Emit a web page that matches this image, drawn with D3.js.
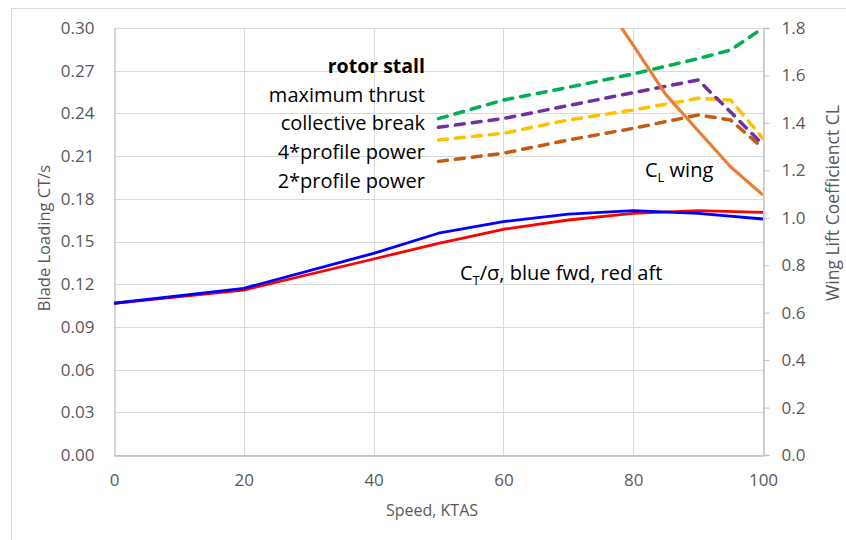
<!DOCTYPE html>
<html>
<head>
<meta charset="utf-8">
<script src="https://cdn.jsdelivr.net/npm/d3@7"></script>
<style>
body { margin: 0; background: #fff; }
text { font-family: "Open Sans", sans-serif; }
</style>
</head>
<body>
<svg id="chart" width="846" height="540"></svg>
<script>
// rotor thrust coefficient, fwd and aft rotor
var speedCT = [0, 20, 40, 50, 60, 70, 80, 90, 100];
var ctFwd = [0.1066, 0.1171, 0.1417, 0.1558, 0.1639, 0.1693, 0.1717, 0.1698, 0.1658];
var ctAft = [0.1066, 0.1159, 0.1377, 0.1487, 0.1586, 0.1651, 0.1698, 0.1717, 0.1705];

// rotor stall limits
var speedStall = [50, 60, 70, 80, 90, 95, 100];
var maxThrust = [0.2363, 0.2494, 0.2583, 0.2677, 0.2785, 0.2845, 0.3000];
var collectiveBreak = [0.2302, 0.2364, 0.2455, 0.2546, 0.2635, 0.2410, 0.2180];
var profile4 = [0.2213, 0.2260, 0.2354, 0.2424, 0.2506, 0.2494, 0.2225];
var profile2 = [0.2063, 0.2120, 0.2213, 0.2295, 0.2389, 0.2354, 0.2155];

// wing lift coefficient (right axis)
var speedWing = [75, 80, 85, 90, 95, 100];
var clWing = [1.93, 1.728, 1.52, 1.367, 1.215, 1.096];

var xTicks = [0, 20, 40, 60, 80, 100];
var leftTicks = [0, 0.03, 0.06, 0.09, 0.12, 0.15, 0.18, 0.21, 0.24, 0.27, 0.30];
var rightTicks = [0, 0.2, 0.4, 0.6, 0.8, 1.0, 1.2, 1.4, 1.6, 1.8];

var stallLabels = ["maximum thrust", "collective break", "4*profile power", "2*profile power"];

// plot area (don't call these top/left, window.top is read-only)
var plotL = 114, plotR = 763, plotT = 28, plotB = 455;

var svg = d3.select("#chart");

var x = d3.scaleLinear().domain([0, 100]).range([plotL, plotR]);
var yL = d3.scaleLinear().domain([0, 0.30]).range([plotB, plotT]);
var yR = d3.scaleLinear().domain([0, 1.8]).range([plotB, plotT]);

// chart frame
svg.append("rect")
    .attr("x", 11.5).attr("y", 8.5)
    .attr("width", 900).attr("height", 600)
    .attr("fill", "#fff").attr("stroke", "#d9d9d9");

svg.append("clipPath").attr("id", "plotClip")
    .append("rect")
    .attr("x", plotL).attr("y", plotT)
    .attr("width", plotR - plotL).attr("height", plotB - plotT);

// gridlines
svg.append("g").selectAll("line").data(leftTicks).enter().append("line")
    .attr("x1", plotL).attr("x2", plotR)
    .attr("y1", function (d) { return Math.round(yL(d)) + 0.5; })
    .attr("y2", function (d) { return Math.round(yL(d)) + 0.5; })
    .attr("stroke", "#d9d9d9");

svg.append("g").selectAll("line").data(xTicks.slice(1)).enter().append("line")
    .attr("x1", function (d) { return Math.round(x(d)) + 0.5; })
    .attr("x2", function (d) { return Math.round(x(d)) + 0.5; })
    .attr("y1", plotT).attr("y2", plotB)
    .attr("stroke", "#d9d9d9");

// axes
var xAxis = svg.append("g")
    .attr("transform", "translate(0," + (plotB + 0.5) + ")")
    .call(d3.axisBottom(x).tickValues(xTicks).tickSize(0).tickPadding(18));

var leftAxis = svg.append("g")
    .attr("transform", "translate(" + (plotL + 0.5) + ",0)")
    .call(d3.axisLeft(yL).tickValues(leftTicks).tickSize(0).tickPadding(20).tickFormat(d3.format(".2f")));

var rightAxis = svg.append("g")
    .attr("transform", "translate(" + (plotR + 0.5) + ",0)")
    .call(d3.axisRight(yR).tickValues(rightTicks).tickSize(6).tickPadding(12).tickFormat(d3.format(".1f")));

[xAxis, leftAxis, rightAxis].forEach(function (g) {
    g.select(".domain").attr("stroke", "#bfbfbf").attr("stroke-width", 1.3);
    g.selectAll(".tick line").attr("stroke", "#bfbfbf");
    g.selectAll(".tick text")
        .attr("fill", "#595959")
        .style("font-size", "17px")
        .style("font-family", "'Open Sans', sans-serif");
});

// axis titles
svg.append("text")
    .attr("transform", "translate(50,238) rotate(-90)")
    .attr("text-anchor", "middle")
    .attr("fill", "#595959")
    .style("font-size", "16.5px")
    .text("Blade Loading CT/s");

svg.append("text")
    .attr("transform", "translate(839,203) rotate(-90)")
    .attr("text-anchor", "middle")
    .attr("fill", "#595959")
    .style("font-size", "17.5px")
    .text("Wing Lift Coefficienct CL");

svg.append("text")
    .attr("x", 432).attr("y", 516)
    .attr("text-anchor", "middle")
    .attr("fill", "#595959")
    .style("font-size", "16px")
    .text("Speed, KTAS");

// series
var plot = svg.append("g").attr("clip-path", "url(#plotClip)");

function drawSeries(xs, ys, yScale, colour, width, dashed) {
    var line = d3.line()
        .x(function (d, i) { return x(xs[i]); })
        .y(function (d) { return yScale(d); });
    var path = plot.append("path")
        .datum(ys)
        .attr("d", line)
        .attr("fill", "none")
        .attr("stroke", colour)
        .attr("stroke-width", width)
        .attr("stroke-linejoin", "round");
    if (dashed) {
        path.attr("stroke-dasharray", "9,8").attr("stroke-linecap", "round");
    }
}

drawSeries(speedStall, profile2, yL, "#c55a11", 3.5, true);
drawSeries(speedStall, profile4, yL, "#ffc000", 3.5, true);
drawSeries(speedStall, collectiveBreak, yL, "#7030a0", 3.5, true);
drawSeries(speedStall, maxThrust, yL, "#00b050", 3.5, true);
drawSeries(speedWing, clWing, yR, "#ed7d31", 3.2, false);
drawSeries(speedCT, ctAft, yL, "#ff0000", 2.8, false);
drawSeries(speedCT, ctFwd, yL, "#0000ff", 2.8, false);

// annotations
svg.append("text")
    .attr("x", 425).attr("y", 73)
    .attr("text-anchor", "end")
    .style("font-size", "19.5px")
    .style("font-weight", "bold")
    .text("rotor stall");

svg.append("g").selectAll("text").data(stallLabels).enter().append("text")
    .attr("x", 425)
    .attr("y", function (d, i) { return 101.5 + i * 28.7; })
    .attr("text-anchor", "end")
    .style("font-size", "20px")
    .text(function (d) { return d; });

var clLabel = svg.append("text")
    .attr("x", 645).attr("y", 177)
    .style("font-size", "20px");
clLabel.append("tspan").text("C");
clLabel.append("tspan").attr("dy", 5).style("font-size", "13px").text("L");
clLabel.append("tspan").attr("dy", -5).text(" wing");

var ctLabel = svg.append("text")
    .attr("x", 460).attr("y", 280)
    .style("font-size", "20px");
ctLabel.append("tspan").text("C");
ctLabel.append("tspan").attr("dy", 5).style("font-size", "13px").text("T");
ctLabel.append("tspan").attr("dy", -5).text("/\u03c3, blue fwd, red aft");
</script>
</body>
</html>
